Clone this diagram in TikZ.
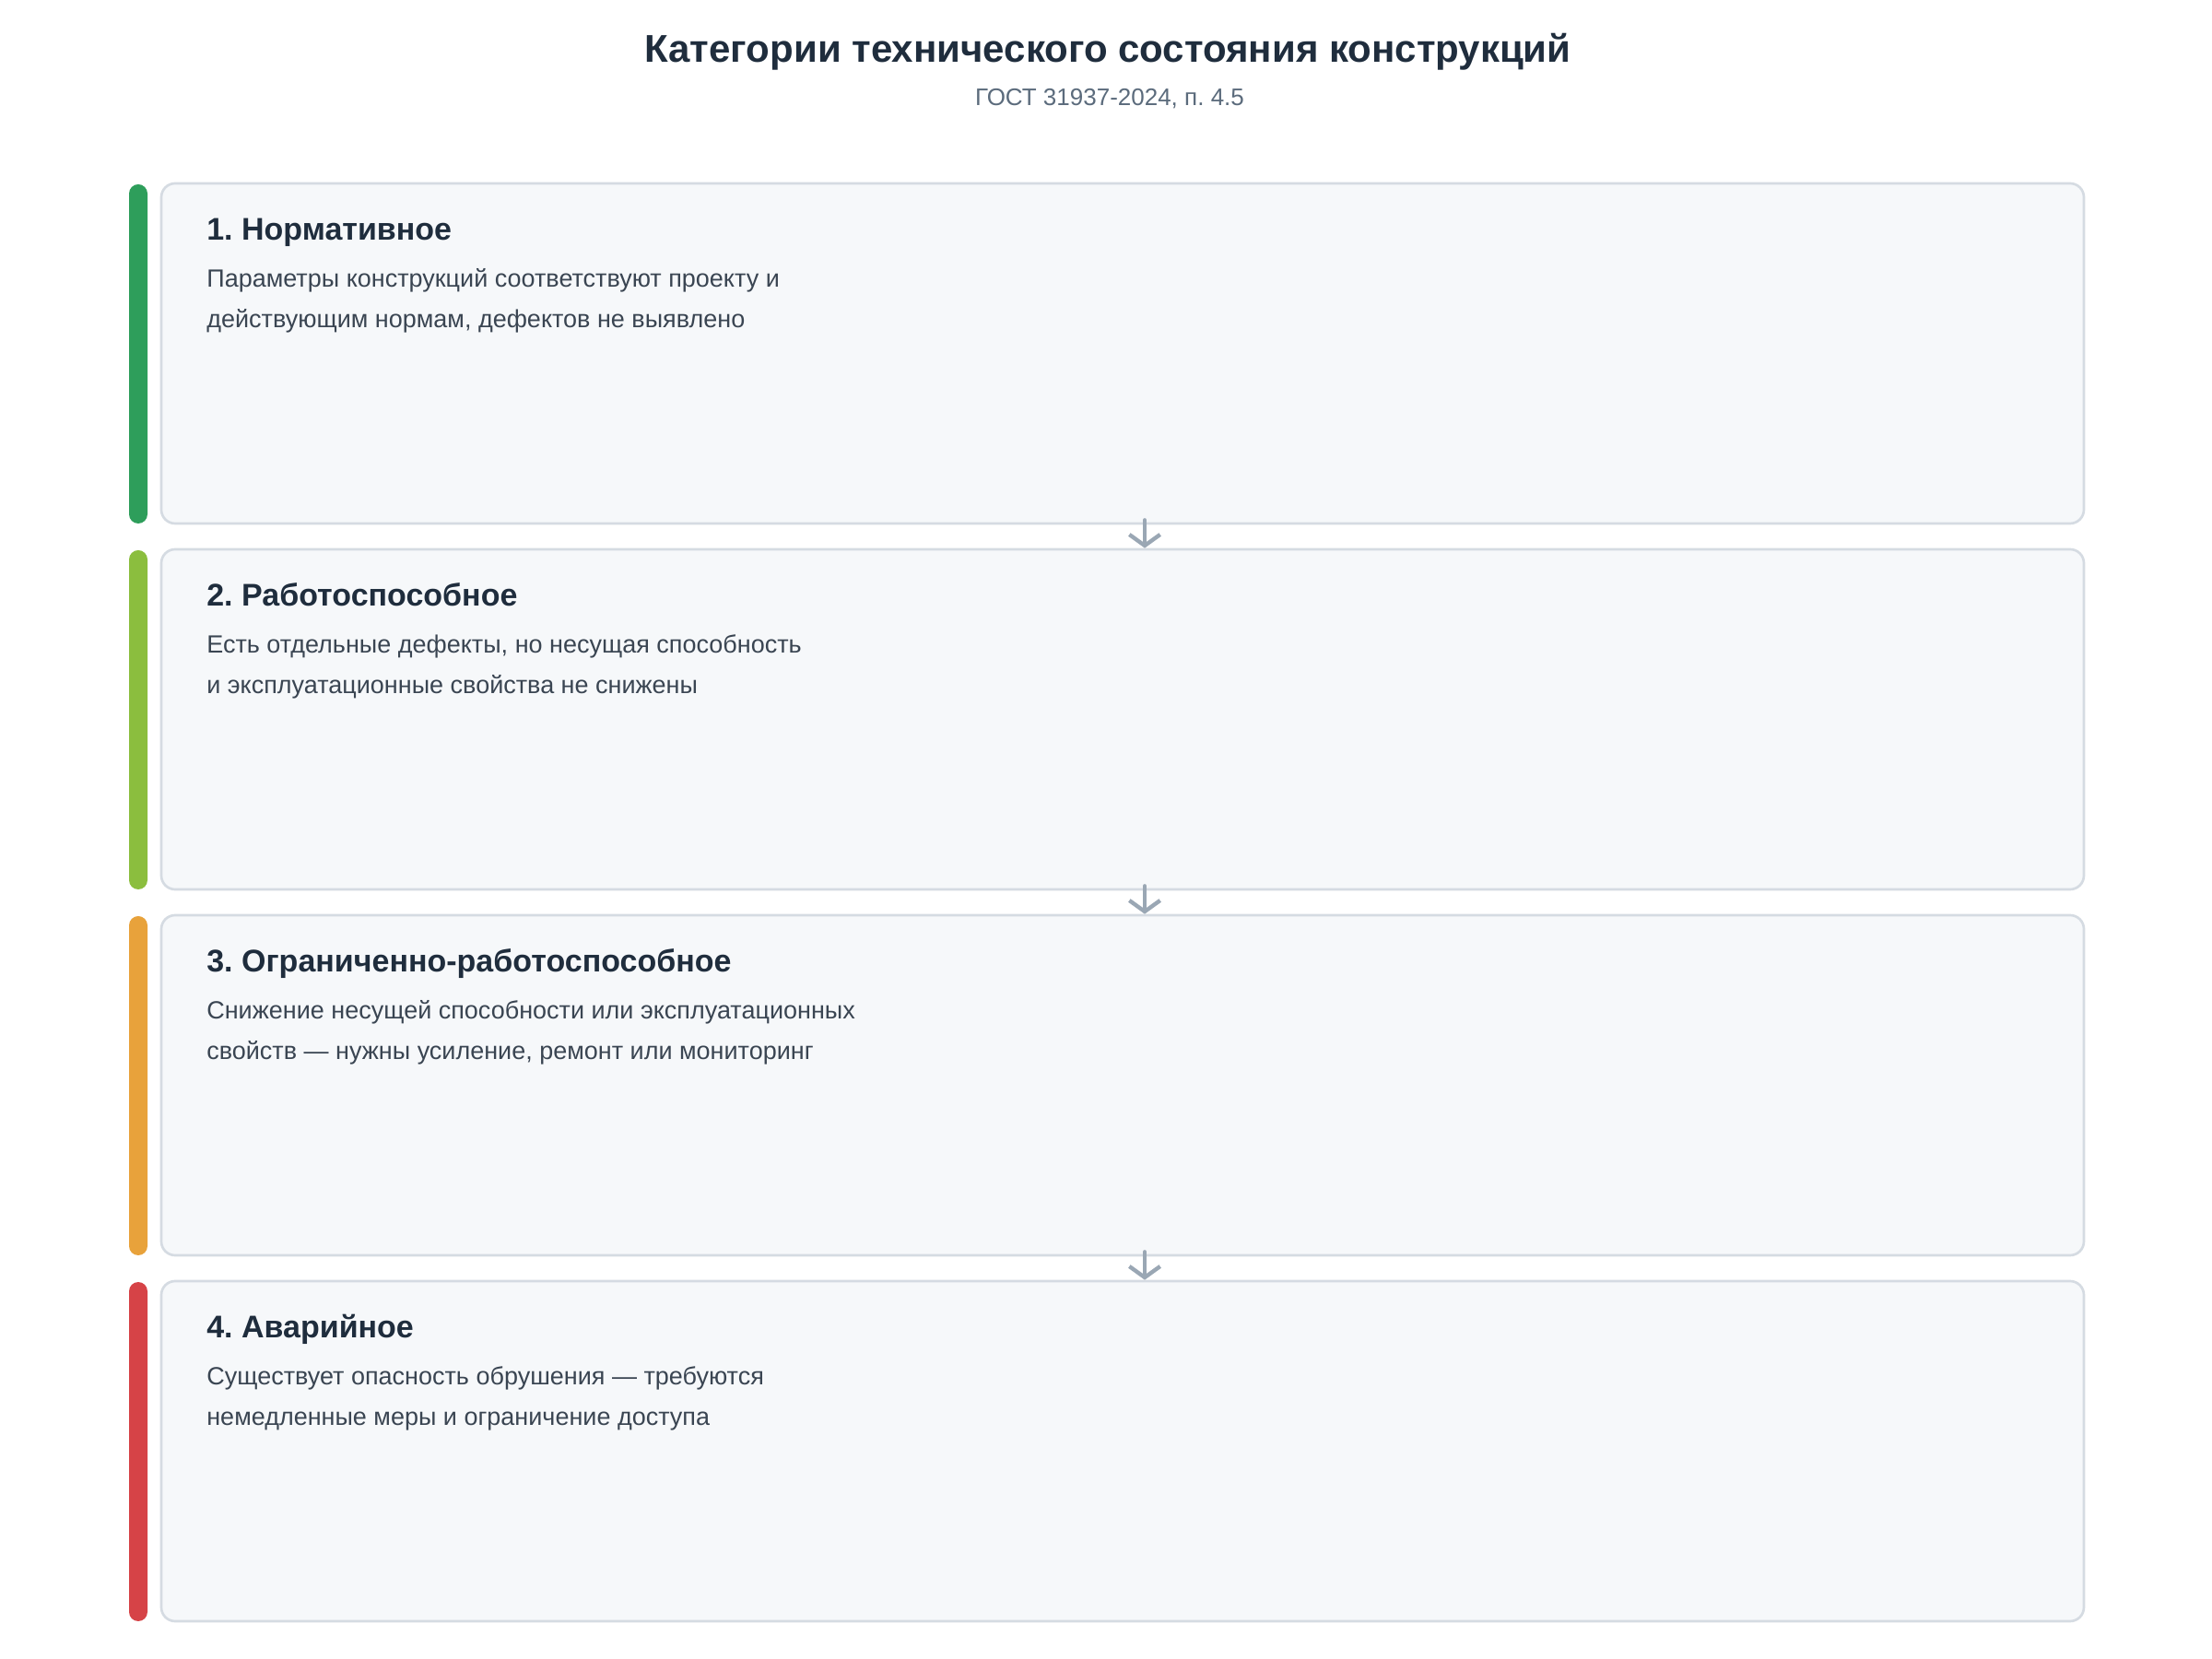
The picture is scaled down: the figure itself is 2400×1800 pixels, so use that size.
\documentclass[tikz,border=0pt]{standalone}
\usepackage{fontspec}
\setmainfont{Liberation Sans}
\frenchspacing
\usetikzlibrary{arrows.meta,positioning}

\definecolor{titlecol}{HTML}{1F2D3D}
\definecolor{subcol}{HTML}{5B6B7C}
\definecolor{bodycol}{HTML}{3A4552}
\definecolor{boxfill}{HTML}{F6F8FA}
\definecolor{boxline}{HTML}{D5DBE2}
\definecolor{arrcol}{HTML}{9AA7B4}
\definecolor{catgreen}{HTML}{2E9E5B}
\definecolor{catlime}{HTML}{8BBE3E}
\definecolor{catorange}{HTML}{E8A23B}
\definecolor{catred}{HTML}{D64347}

\tikzset{
  catbox/.style = {draw=boxline, fill=boxfill, line width=0.8pt,
    rounded corners=4.5pt, minimum width=625.8pt, minimum height=110.7pt,
    inner sep=0pt},% карточка категории
  catbar/.style = {rounded corners=3pt, minimum width=6pt,
    minimum height=110.4pt, inner sep=0pt},% цветная полоса слева
  cathead/.style = {anchor=base west, inner sep=0pt, text=titlecol,
    font=\fontsize{10.2}{12}\selectfont\bfseries},
  catbody/.style = {anchor=base west, inner sep=0pt, align=left, text=bodycol,
    font=\fontsize{8.1}{13.2}\selectfont},
  flow/.style = {-{Straight Barb[length=3.6pt,width=10pt]}, line width=1.3pt,
    draw=arrcol, line cap=round}
}

\begin{document}
\begin{tikzpicture}[x=0.3pt,y=0.3pt]
    \fill[white] (0,0) rectangle (2400,1800);
    \useasboundingbox (0,0) rectangle (2400,1800);

    \node [anchor=base, inner sep=0pt, text=titlecol,
      font=\fontsize{12.6}{14}\selectfont\bfseries] (title) at (1202,1732)
      {Категории технического состояния конструкций};
    \node [anchor=base, inner sep=0pt, text=subcol,
      font=\fontsize{7.8}{9}\selectfont] (subtitle) at (1204,1685)
      {ГОСТ 31937-2024, п. 4.5};

    \node [catbox] (box1) at (1218,1416.5) {};
    \node [catbar, fill=catgreen] (bar1) at (150,1416) {};
    \node [cathead] (head1) at ([shift={(50,-63)}]box1.north west) {1. Нормативное};
    \node [catbody] (text1) at ([shift={(50,-158)}]box1.north west)
      {Параметры конструкций соответствуют проекту и\\
       действующим нормам, дефектов не выявлено};

    \node [catbox] (box2) at (1218,1019.5) {};
    \node [catbar, fill=catlime] (bar2) at (150,1019) {};
    \node [cathead] (head2) at ([shift={(50,-63)}]box2.north west) {2. Работоспособное};
    \node [catbody] (text2) at ([shift={(50,-158)}]box2.north west)
      {Есть отдельные дефекты, но несущая способность\\
       и эксплуатационные свойства не снижены};

    \node [catbox] (box3) at (1218,622.5) {};
    \node [catbar, fill=catorange] (bar3) at (150,622) {};
    \node [cathead] (head3) at ([shift={(50,-63)}]box3.north west) {3. Ограниченно-работоспособное};
    \node [catbody] (text3) at ([shift={(50,-158)}]box3.north west)
      {Снижение несущей способности или эксплуатационных\\
       свойств — нужны усиление, ремонт или мониторинг};

    \node [catbox] (box4) at (1218,225.5) {};
    \node [catbar, fill=catred] (bar4) at (150,225) {};
    \node [cathead] (head4) at ([shift={(50,-63)}]box4.north west) {4. Аварийное};
    \node [catbody] (text4) at ([shift={(50,-158)}]box4.north west)
      {Существует опасность обрушения — требуются\\
       немедленные меры и ограничение доступа};

    \draw [flow] ([shift={(24,5)}]box1.south) -- ([shift={(24,0)}]box2.north);
    \draw [flow] ([shift={(24,5)}]box2.south) -- ([shift={(24,0)}]box3.north);
    \draw [flow] ([shift={(24,5)}]box3.south) -- ([shift={(24,0)}]box4.north);
\end{tikzpicture}
\end{document}
